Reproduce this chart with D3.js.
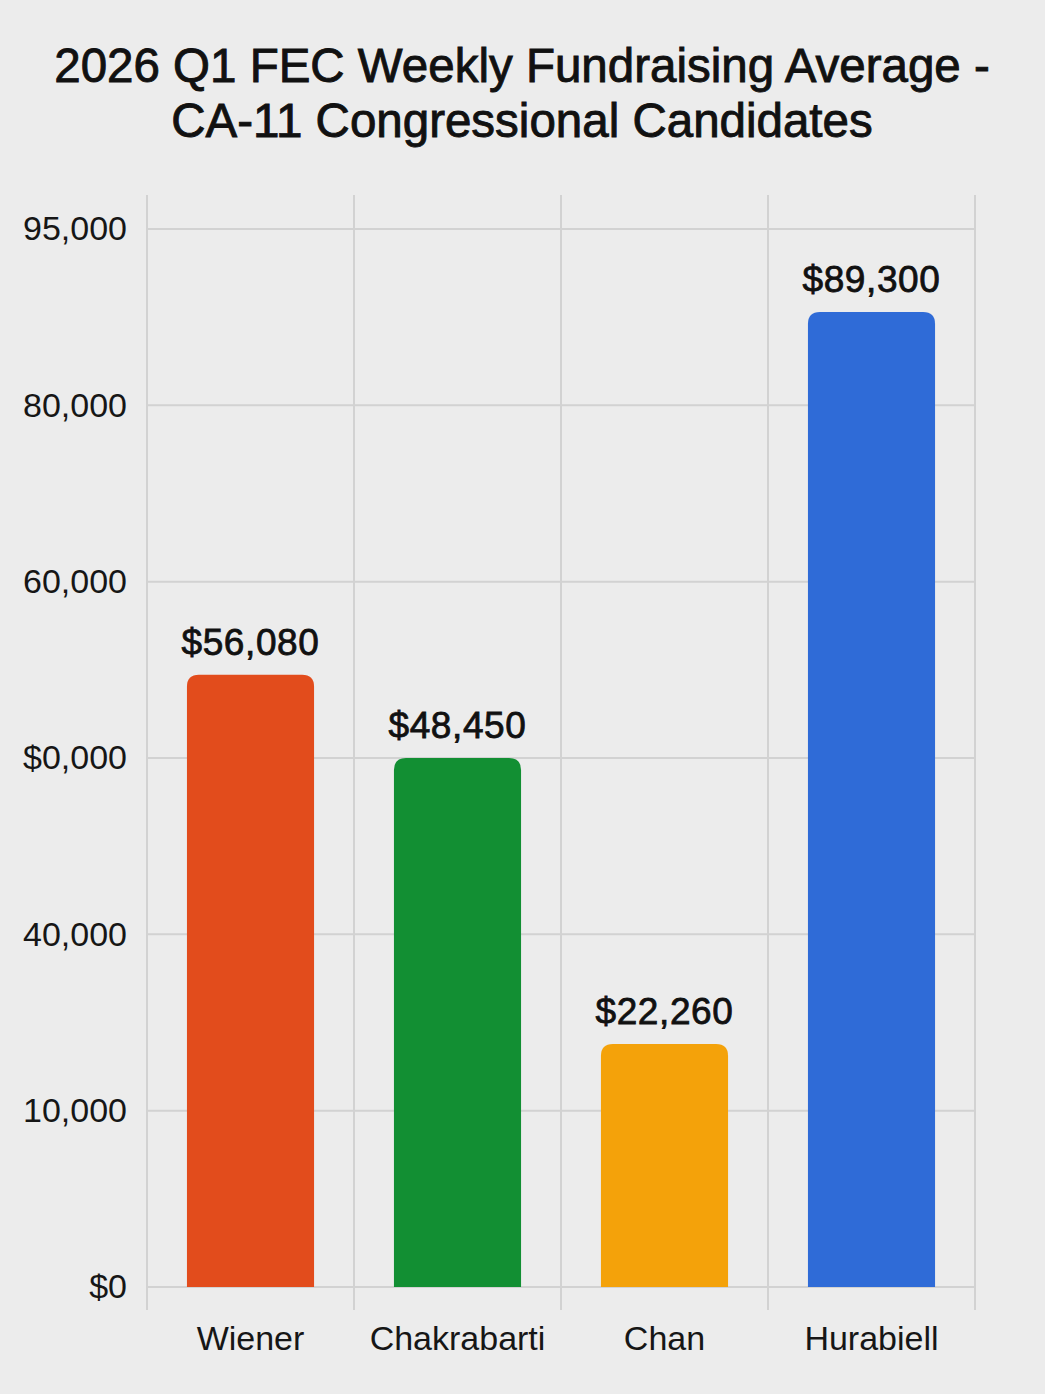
<!DOCTYPE html>
<html>
<head>
<meta charset="utf-8">
<script src="https://cdn.jsdelivr.net/npm/d3@7"></script>
<style>
  html, body { margin: 0; padding: 0; background: #ececec; }
  svg { display: block; }
</style>
</head>
<body>
<svg id="chart" width="1045" height="1394"></svg>
<script>
// ---- data ----
const titleLines = ["2026 Q1 FEC Weekly Fundraising Average -", "CA-11 Congressional Candidates"];
const candidates = ["Wiener", "Chakrabarti", "Chan", "Hurabiell"];
const weeklyAverage = [56080, 48450, 22260, 89300];
const valueLabels = ["$56,080", "$48,450", "$22,260", "$89,300"];
const barColors = ["#e24c1c", "#128f33", "#f4a20a", "#2f6bd7"];
const tickLabels = ["$0", "10,000", "40,000", "$0,000", "60,000", "80,000", "95,000"];
const yMax = 96900;

// ---- layout ----
const svg = d3.select("#chart");
const W = 1045, H = 1394;
const plot = { left: 147, right: 975, top: 229, bottom: 1287 };
const FONT = "'Liberation Sans', Arial, Helvetica, sans-serif";

svg.append("rect").attr("width", W).attr("height", H).attr("fill", "#ececec");

const x = d3.scaleBand().domain(candidates).range([plot.left, plot.right]).paddingInner(0.386).paddingOuter(0.193);
const y = d3.scaleLinear().domain([0, yMax]).range([plot.bottom, plot.top]);
const tickVals = tickLabels.map((_, i) => yMax * i / (tickLabels.length - 1));

// title
svg.append("g").selectAll("text").data(titleLines).join("text")
  .attr("x", 522).attr("y", (d, i) => 82 + i * 55)
  .attr("text-anchor", "middle")
  .attr("font-family", FONT)
  .attr("font-size", 47.5)
  .attr("fill", "#111").attr("stroke", "#111").attr("stroke-width", 0.9)
  .text(d => d);

// horizontal grid
svg.append("g").selectAll("line").data(tickVals).join("line")
  .attr("x1", plot.left).attr("x2", plot.right)
  .attr("y1", d => y(d)).attr("y2", d => y(d))
  .attr("stroke", "#d2d2d2").attr("stroke-width", 2);

// vertical grid (band boundaries)
const vLines = [plot.left].concat(candidates.slice(1).map(c => x(c) - (x.step() - x.bandwidth()) / 2), [plot.right]);
svg.append("g").selectAll("line").data(vLines).join("line")
  .attr("x1", d => d).attr("x2", d => d)
  .attr("y1", 195).attr("y2", 1310)
  .attr("stroke", "#d2d2d2").attr("stroke-width", 2);

// y axis labels via d3 axis
const yAxis = d3.axisLeft(y).tickValues(tickVals).tickSize(0).tickPadding(20)
  .tickFormat((d, i) => tickLabels[i]);
const gy = svg.append("g").attr("transform", `translate(${plot.left},0)`).call(yAxis);
gy.select(".domain").remove();
gy.selectAll("text")
  .attr("font-family", FONT)
  .attr("font-size", 34).attr("fill", "#161616");

// bars with rounded tops
const r = 12;
function barPath(d, i) {
  const x0 = x(candidates[i]), w = x.bandwidth();
  const yt = y(d), yb = y(0);
  return `M${x0},${yb}V${yt + r}Q${x0},${yt} ${x0 + r},${yt}H${x0 + w - r}Q${x0 + w},${yt} ${x0 + w},${yt + r}V${yb}Z`;
}
svg.append("g").selectAll("path").data(weeklyAverage).join("path")
  .attr("d", barPath)
  .attr("fill", (d, i) => barColors[i]);

// value labels
svg.append("g").selectAll("text").data(weeklyAverage).join("text")
  .attr("x", (d, i) => x(candidates[i]) + x.bandwidth() / 2)
  .attr("y", d => y(d) - 20)
  .attr("text-anchor", "middle")
  .attr("font-family", FONT)
  .attr("font-size", 37).attr("letter-spacing", 0.6)
  .attr("fill", "#111").attr("stroke", "#111").attr("stroke-width", 0.8)
  .text((d, i) => valueLabels[i]);

// x axis labels
const xAxis = d3.axisBottom(x).tickSize(0).tickPadding(0);
const gx = svg.append("g").attr("transform", `translate(0,1350)`).call(xAxis);
gx.select(".domain").remove();
gx.selectAll("text")
  .attr("dy", 0)
  .attr("font-family", FONT)
  .attr("font-size", 34).attr("fill", "#161616");
</script>
</body>
</html>
